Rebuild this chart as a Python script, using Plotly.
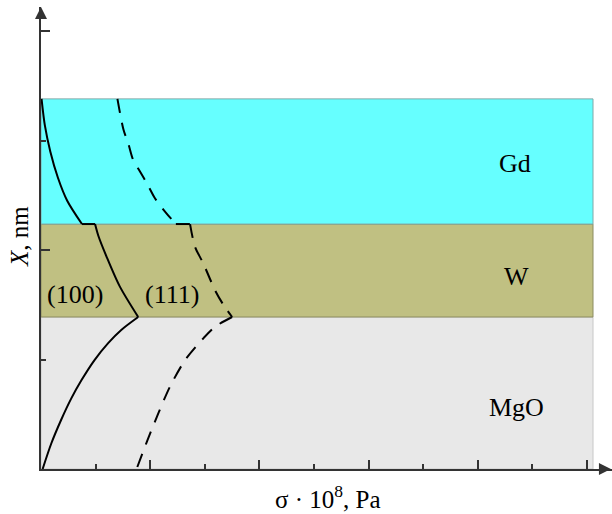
import plotly.graph_objects as go

# Layer boundaries (X, nm in axis units)
layer_names = ["MgO", "W", "Gd"]
layer_bottom = [0.0, 1.388, 2.237]
layer_top = [1.388, 2.237, 3.38]
layer_colors = ["#E8E8E8", "#C0C082", "#66FFFF"]
layer_edge = ["#C8C8C8", "#8C8C60", "#7FA8A8"]
layer_label_x = [8.70, 8.70, 8.68]
layer_label_y = [0.566, 1.76, 2.79]
band_right = 10.11

# Curve (100) – solid
s100_gd_x = [0.01, 0.07, 0.17, 0.31, 0.48, 0.75]
s100_gd_y = [3.38, 3.14, 2.90, 2.66, 2.45, 2.237]
s100_w_x = [0.99, 1.05, 1.20, 1.44, 1.78]
s100_w_y = [2.237, 2.13, 1.94, 1.67, 1.388]
s100_mgo_x = [1.78, 1.47, 1.23, 0.98, 0.74, 0.555, 0.37, 0.19, 0.03]
s100_mgo_y = [1.388, 1.27, 1.15, 0.995, 0.81, 0.645, 0.45, 0.235, 0.0]

# Curve (111) – dashed
s111_gd_x = [1.40, 1.51, 1.60, 1.69, 1.81, 1.97, 2.09, 2.29, 2.47]
s111_gd_y = [3.38, 3.10, 2.97, 2.82, 2.72, 2.58, 2.47, 2.34, 2.237]
s111_w_x = [2.73, 2.82, 2.97, 3.19, 3.34, 3.50]
s111_w_y = [2.237, 2.03, 1.88, 1.63, 1.50, 1.388]
s111_mgo_x = [3.50, 3.19, 2.985, 2.64, 2.36, 2.15, 1.94, 1.75]
s111_mgo_y = [1.388, 1.30, 1.20, 0.995, 0.75, 0.51, 0.25, 0.0]

curve_labels = ["(100)", "(111)"]
curve_label_x = [0.62, 2.40]
curve_label_y = [1.59, 1.59]

x_title = "σ · 10<sup>8</sup>, Pa"
y_title = "<i>X</i>, nm"

W, H = 612, 514
ML, MR, MT, MB = 41, 0, 7, 45
PX_X = 54.6
PX_Y = 109.5
PW, PH = W - ML - MR, H - MT - MB
x_max = PW / PX_X
y_max = PH / PX_Y

FONT = "Liberation Serif, Times New Roman, serif"

fig = go.Figure()

for b, t, c, e in zip(layer_bottom, layer_top, layer_colors, layer_edge):
    fig.add_shape(type="rect", xref="x", yref="y", x0=0, x1=band_right, y0=b, y1=t,
                  fillcolor=c, line=dict(color=e, width=1), layer="below")


def add_curve(segs, dash):
    prev = None
    for xs, ys in segs:
        if prev is not None and (prev[0] != xs[0] or prev[1] != ys[0]):
            fig.add_trace(go.Scatter(x=[prev[0], xs[0]], y=[prev[1], ys[0]], mode="lines",
                                     line=dict(color="black", width=2, dash=dash),
                                     hoverinfo="skip", showlegend=False))
        fig.add_trace(go.Scatter(x=xs, y=ys, mode="lines",
                                 line=dict(color="black", width=2, dash=dash, shape="spline", smoothing=0.8),
                                 hoverinfo="skip", showlegend=False))
        prev = (xs[-1], ys[-1])


add_curve([(s100_gd_x, s100_gd_y), (s100_w_x, s100_w_y), (s100_mgo_x, s100_mgo_y)], "solid")
add_curve([(s111_gd_x, s111_gd_y), (s111_w_x, s111_w_y), (s111_mgo_x, s111_mgo_y)], "14px,10px")

# axis arrowheads
fig.add_trace(go.Scatter(x=[0], y=[y_max], mode="markers", cliponaxis=False,
                         marker=dict(symbol="arrow-up", size=12, color="#333333", line=dict(width=0)),
                         hoverinfo="skip", showlegend=False))
fig.add_trace(go.Scatter(x=[x_max - 0.02], y=[0], mode="markers", cliponaxis=False,
                         marker=dict(symbol="arrow-right", size=12, color="#333333", line=dict(width=0)),
                         hoverinfo="skip", showlegend=False))

for name, lx, ly in zip(layer_names, layer_label_x, layer_label_y):
    fig.add_annotation(x=lx, y=ly, xref="x", yref="y", text=name, showarrow=False,
                       xanchor="center", yanchor="middle",
                       font=dict(family=FONT, size=26, color="black"))
for name, lx, ly in zip(curve_labels, curve_label_x, curve_label_y):
    fig.add_annotation(x=lx, y=ly, xref="x", yref="y", text=name, showarrow=False,
                       xanchor="center", yanchor="middle",
                       font=dict(family=FONT, size=26, color="black"))

fig.add_annotation(x=(328 - ML) / PW, y=(H - MB - 497) / PH, xref="paper", yref="paper",
                   text=x_title, showarrow=False, xanchor="center", yanchor="middle",
                   font=dict(family=FONT, size=25, color="black"))
fig.add_annotation(x=(19 - ML) / PW, y=(H - MB - 237) / PH, xref="paper", yref="paper",
                   text=y_title, textangle=-90, showarrow=False, xanchor="center", yanchor="middle",
                   font=dict(family=FONT, size=25, color="black"))

axis_common = dict(showgrid=False, zeroline=False, showticklabels=False, showline=True,
                   linecolor="#333333", linewidth=2, ticks="inside", tickcolor="#333333",
                   tickwidth=1.5, ticklen=9, tick0=0, dtick=2,
                   minor=dict(ticks="inside", ticklen=5, dtick=1, tick0=0,
                              tickcolor="#333333", tickwidth=1.5, showgrid=False))

fig.update_xaxes(range=[0, x_max], **axis_common)
fig.update_yaxes(range=[0, y_max], **axis_common)

fig.update_layout(width=W, height=H, margin=dict(l=ML, r=MR, t=MT, b=MB),
                  plot_bgcolor="white", paper_bgcolor="white", showlegend=False,
                  font=dict(family=FONT))

fig.write_html("out.html", config={"displayModeBar": False},
               post_script="document.body.style.margin='0';document.body.style.overflow='hidden';")
